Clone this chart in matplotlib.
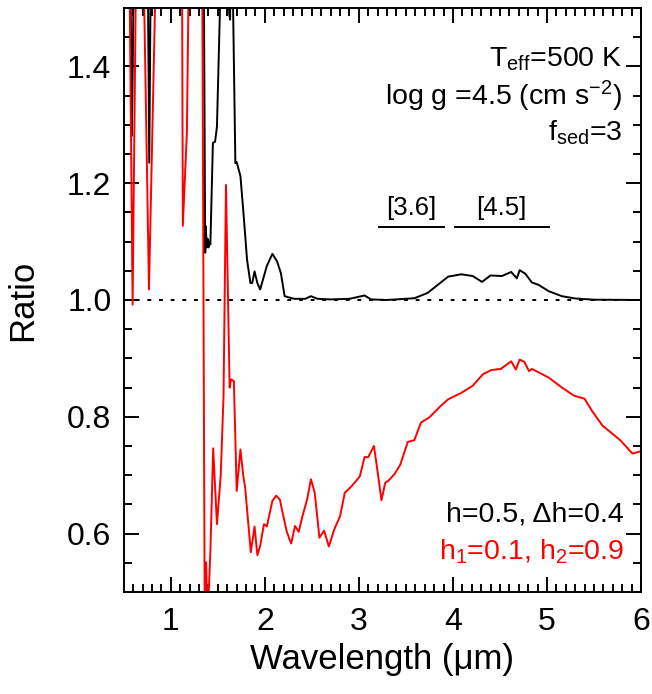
import numpy as np
import matplotlib
matplotlib.use('Agg')
import matplotlib.pyplot as plt
from matplotlib.ticker import MultipleLocator

plt.rcParams['font.family'] = ['Liberation Sans', 'DejaVu Sans']
plt.rcParams['mathtext.fontset'] = 'custom'
plt.rcParams['mathtext.rm'] = 'Liberation Sans'
plt.rcParams['mathtext.it'] = 'Liberation Sans:italic'
plt.rcParams['mathtext.default'] = 'regular'

# black curve: h=0.5, dh=0.4 (values above 1.5 run off the top of the plot)
wave_black = [0.53, 0.57, 0.585, 0.605, 0.70, 0.755, 0.77, 0.785, 1.00, 1.34,
              1.365, 1.372, 1.38, 1.39, 1.40, 1.41, 1.42, 1.447, 1.47, 1.49,
              1.52, 1.54, 1.60, 1.62, 1.63, 1.645, 1.66, 1.686, 1.70, 1.74,
              1.775, 1.81, 1.846, 1.865, 1.89, 1.92, 1.95, 2.02, 2.08, 2.13,
              2.17, 2.21, 2.31, 2.43, 2.49, 2.56, 2.70, 2.90, 3.06, 3.13,
              3.30, 3.59, 3.73, 3.95, 4.09, 4.21, 4.31, 4.40, 4.52, 4.62,
              4.68, 4.71, 4.77, 4.84, 4.91, 5.02, 5.16, 5.30, 5.50, 6.00]
ratio_black = [1.9, 1.55, 1.281, 1.55, 1.9, 1.55, 1.235, 1.55, 1.9, 1.9,
               1.081, 1.126, 1.09, 1.105, 1.09, 1.10, 1.095, 1.269, 1.271, 1.297,
               1.485, 1.7, 1.7, 1.49, 1.48, 1.7, 1.52, 1.234, 1.236, 1.212,
               1.143, 1.069, 1.029, 1.029, 1.049, 1.029, 1.018, 1.058, 1.079, 1.066,
               1.046, 1.0065, 1.002, 1.002, 1.0065, 1.002, 1.001, 1.002, 1.0077, 1.001,
               1.000, 1.003, 1.012, 1.040, 1.044, 1.041, 1.031, 1.042, 1.041, 1.048,
               1.037, 1.051, 1.045, 1.030, 1.026, 1.015, 1.0065, 1.0026, 1.0005, 1.000]

# red curve: h1=0.1, h2=0.9
wave_red = [0.53, 0.56, 0.593, 0.628, 0.68, 0.717, 0.767, 0.831, 1.00, 1.12,
            1.127, 1.17, 1.186, 1.25, 1.335, 1.36, 1.375, 1.39, 1.42, 1.45,
            1.49, 1.53, 1.56, 1.586, 1.625, 1.64, 1.67, 1.70, 1.74, 1.77,
            1.79, 1.85, 1.89, 1.92, 1.95, 1.99, 2.02, 2.08, 2.12, 2.16,
            2.18, 2.23, 2.26, 2.28, 2.32, 2.36, 2.40, 2.45, 2.49, 2.53,
            2.58, 2.63, 2.68, 2.74, 2.80, 2.85, 2.91, 2.97, 3.01, 3.06,
            3.10, 3.16, 3.20, 3.24, 3.28, 3.31, 3.38, 3.44, 3.52, 3.59,
            3.66, 3.75, 3.86, 3.95, 4.09, 4.21, 4.32, 4.41, 4.51, 4.62,
            4.67, 4.71, 4.76, 4.81, 4.84, 5.02, 5.16, 5.29, 5.40, 5.48,
            5.59, 5.78, 5.91, 6.00]
ratio_red = [1.9, 1.55, 0.992, 1.55, 1.9, 1.5, 1.018, 1.5, 1.9, 1.5,
             1.127, 1.286, 1.5, 1.9, 1.5, 0.45, 0.551, 0.45, 0.568, 0.746,
             0.616, 0.699, 0.835, 1.197, 0.850, 0.864, 0.861, 0.673, 0.744, 0.699,
             0.679, 0.568, 0.612, 0.563, 0.579, 0.616, 0.612, 0.656, 0.665, 0.658,
             0.642, 0.605, 0.591, 0.583, 0.613, 0.603, 0.630, 0.659, 0.693, 0.670,
             0.593, 0.605, 0.578, 0.608, 0.630, 0.670, 0.679, 0.690, 0.698, 0.731,
             0.731, 0.750, 0.705, 0.657, 0.687, 0.690, 0.702, 0.718, 0.757, 0.760,
             0.790, 0.799, 0.817, 0.830, 0.841, 0.853, 0.873, 0.880, 0.882, 0.895,
             0.881, 0.898, 0.894, 0.878, 0.882, 0.867, 0.850, 0.836, 0.831, 0.810,
             0.785, 0.760, 0.737, 0.741]

# IRAC bands
band_names = ['[3.6]', '[4.5]']
band_lo = [3.21, 4.02]
band_hi = [3.91, 5.02]

fig = plt.figure(figsize=(6.52, 6.94), dpi=100)
ax = fig.add_axes([0.190, 0.147, 0.793, 0.8415])

ax.plot(wave_black, ratio_black, color='black', lw=1.4)
ax.plot(wave_red, ratio_red, color='red', lw=1.4)
ax.axhline(1.0, color='black', lw=1.4, ls=(0, (2, 4)))

# band markers
for name, lo, hi in zip(band_names, band_lo, band_hi):
    ax.plot([lo, hi], [1.1245, 1.1245], color='black', lw=1.4)
    ax.text((lo + hi) / 2, 1.137, name, ha='center', va='bottom', fontsize=18.5)

ax.text(5.80, 1.399, r'T$_{\rm eff}$=500 K', ha='right', va='baseline', fontsize=20.5)
ax.text(5.80, 1.334, r'log g =4.5 (cm s$^{-2}$)', ha='right', va='baseline', fontsize=20.5)
ax.text(5.80, 1.273, r'f$_{\rm sed}$=3', ha='right', va='baseline', fontsize=20.5)
ax.text(5.82, 0.621, 'h=0.5, \u0394h=0.4', ha='right', va='baseline', fontsize=20.5)
ax.text(5.82, 0.556, r'h$_1$=0.1, h$_2$=0.9', ha='right', va='baseline',
        fontsize=20.5, color='red')

ax.set_xlim(0.5, 6.0)
ax.set_ylim(0.5, 1.5)
ax.xaxis.set_major_locator(MultipleLocator(1))
ax.xaxis.set_minor_locator(MultipleLocator(0.1))
ax.yaxis.set_major_locator(MultipleLocator(0.2))
ax.yaxis.set_minor_locator(MultipleLocator(0.05))
ax.set_yticklabels(['%.1f' % v for v in ax.get_yticks()])
ax.tick_params(which='both', direction='in', top=True, right=True, width=1.4)
ax.tick_params(which='major', length=11, labelsize=23)
ax.tick_params(which='minor', length=5.5)
ax.tick_params(axis='x', which='major', pad=11)
ax.tick_params(axis='y', which='major', pad=9)
for s in ax.spines.values():
    s.set_linewidth(1.4)

ax.set_xlabel('Wavelength (\u03bcm)', fontsize=25, labelpad=4)
ax.set_ylabel('Ratio', fontsize=25, labelpad=20)

fig.savefig('out.png', dpi=100)
